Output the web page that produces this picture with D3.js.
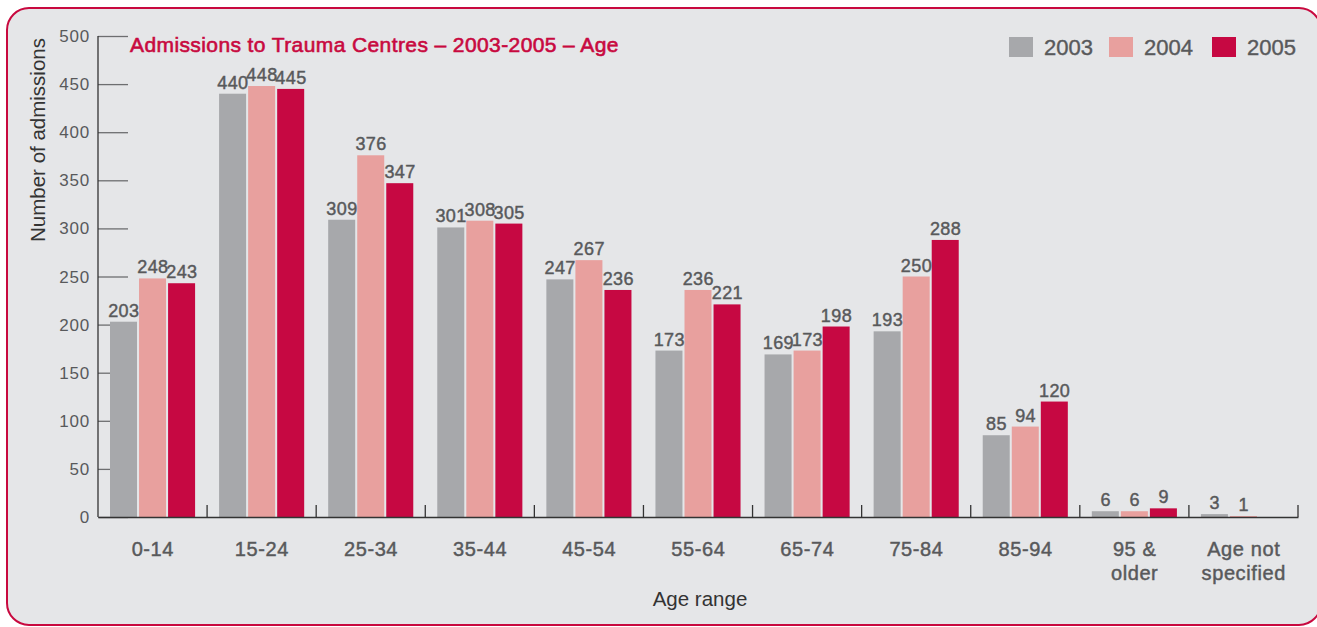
<!DOCTYPE html>
<html>
<head>
<meta charset="utf-8">
<script src="https://cdn.jsdelivr.net/npm/d3@7"></script>
<style>
  html, body { margin: 0; padding: 0; background: #ffffff; overflow: hidden; }
  svg { display: block; font-family: "Liberation Sans", Arial, sans-serif; }
</style>
</head>
<body>
<div id="chart"></div>
<script>
// the data
const ageRanges = ["0-14", "15-24", "25-34", "35-44", "45-54", "55-64", "65-74", "75-84", "85-94", "95 & older", "Age not specified"];
const years = ["2003", "2004", "2005"];
const admissions2003 = [203, 440, 309, 301, 247, 173, 169, 193, 85, 6, 3];
const admissions2004 = [248, 448, 376, 308, 267, 236, 173, 250, 94, 6, 1];
const admissions2005 = [243, 445, 347, 305, 236, 221, 198, 288, 120, 9, null];
const yTicks = [0, 50, 100, 150, 200, 250, 300, 350, 400, 450, 500];
const yearColors = ["#a7a8ab", "#e8a09e", "#c60842"];

// category labels that go on two lines
const labelLines = {
  "95 & older": ["95 &", "older"],
  "Age not specified": ["Age not", "specified"]
};

const W = 1317, H = 627;
const series = [admissions2003, admissions2004, admissions2005];

const svg = d3.select("#chart").append("svg")
  .attr("width", W)
  .attr("height", H);

// the rounded panel behind everything, its right side runs off the picture
svg.append("rect")
  .attr("x", 7).attr("y", 8)
  .attr("width", 1314).attr("height", 617)
  .attr("rx", 22)
  .attr("fill", "#e5e6e8")
  .attr("stroke", "#c8093f")
  .attr("stroke-width", 2);

const x0 = d3.scaleBand().domain(ageRanges).range([98, 1298]).paddingInner(0).paddingOuter(0);
const x1 = d3.scaleBand().domain(years).range([12, x0.bandwidth() - 12]).paddingInner(0.07);
const y = d3.scaleLinear().domain([0, 500]).range([517, 36]);

// y ticks go inward and sit behind the bars
const yAxis = svg.append("g").attr("transform", "translate(98,0)")
  .call(d3.axisRight(y).tickValues(yTicks).tickSize(30).tickFormat(""));
yAxis.select(".domain").remove();
yAxis.selectAll(".tick line").attr("stroke", "#6d6e70").attr("stroke-width", 1.3);

svg.append("g").selectAll("text")
  .data(yTicks)
  .join("text")
  .attr("x", 90)
  .attr("y", d => y(d) + 6)
  .attr("text-anchor", "end")
  .attr("font-size", 17)
  .attr("letter-spacing", 0.8)
  .attr("fill", "#58595b")
  .text(d => d);

// bars
const groups = svg.append("g").selectAll("g")
  .data(ageRanges)
  .join("g")
  .attr("transform", d => `translate(${x0(d)},0)`);

groups.selectAll("rect")
  .data((d, i) => years.map((yr, k) => ({ yr: yr, v: series[k][i], k: k })).filter(e => e.v !== null))
  .join("rect")
  .attr("x", e => x1(e.yr))
  .attr("y", e => y(e.v))
  .attr("width", x1.bandwidth())
  .attr("height", e => y(0) - y(e.v))
  .attr("fill", e => yearColors[e.k]);

groups.selectAll("text")
  .data((d, i) => years.map((yr, k) => ({ yr: yr, v: series[k][i] })).filter(e => e.v !== null))
  .join("text")
  .attr("x", e => x1(e.yr) + x1.bandwidth() / 2 + 0.3)
  .attr("y", e => y(e.v) - 5)
  .attr("text-anchor", "middle")
  .attr("font-size", 18)
  .attr("letter-spacing", 0.4)
  .attr("fill", "#58595b")
  .attr("stroke", "#58595b")
  .attr("stroke-width", 0.45)
  .text(e => e.v);

// axes lines
svg.append("line")
  .attr("x1", 98).attr("x2", 98)
  .attr("y1", 36).attr("y2", 517)
  .attr("stroke", "#333").attr("stroke-width", 1.3);

const xAxis = svg.append("g").attr("transform", "translate(0,517)")
  .call(d3.axisTop(x0).tickSize(0).tickFormat(""));
xAxis.select(".domain").attr("stroke", "#333").attr("stroke-width", 1.3);

// separator ticks between the categories
const seps = ageRanges.map(d => x0(d) + x0.bandwidth());
svg.append("g").selectAll("line")
  .data(seps)
  .join("line")
  .attr("x1", d => d).attr("x2", d => d)
  .attr("y1", 505).attr("y2", 517)
  .attr("stroke", "#333").attr("stroke-width", 1.3);

// category labels
svg.append("g").selectAll("text")
  .data(ageRanges)
  .join("text")
  .attr("y", 556)
  .attr("text-anchor", "middle")
  .attr("font-size", 20)
  .attr("letter-spacing", 0.6)
  .attr("fill", "#58595b")
  .attr("stroke", "#58595b")
  .attr("stroke-width", 0.45)
  .each(function (d) {
    const lines = labelLines[d] || [d];
    d3.select(this).selectAll("tspan")
      .data(lines)
      .join("tspan")
      .attr("x", x0(d) + x0.bandwidth() / 2 + 0.3)
      .attr("dy", (l, j) => j === 0 ? 0 : 24)
      .text(l => l);
  });

// axis titles
svg.append("text")
  .attr("x", 700).attr("y", 606)
  .attr("text-anchor", "middle")
  .attr("font-size", 20.5)
  .attr("fill", "#333")
  .text("Age range");

svg.append("text")
  .attr("transform", "translate(45,140) rotate(-90)")
  .attr("text-anchor", "middle")
  .attr("font-size", 20.5)
  .attr("fill", "#333")
  .text("Number of admissions");

// chart title
svg.append("text")
  .attr("x", 130).attr("y", 52)
  .attr("font-size", 21)
  .attr("letter-spacing", 0.4)
  .attr("fill", "#c8093f")
  .attr("stroke", "#c8093f")
  .attr("stroke-width", 0.6)
  .text("Admissions to Trauma Centres \u2013 2003-2005 \u2013 Age");

// legend
const legendX = [1009, 1109, 1212];
const legend = svg.append("g").selectAll("g")
  .data(years)
  .join("g")
  .attr("transform", (d, i) => `translate(${legendX[i]},37)`);
legend.append("rect")
  .attr("width", 24).attr("height", 20)
  .attr("fill", (d, i) => yearColors[i]);
legend.append("text")
  .attr("x", 35).attr("y", 18)
  .attr("font-size", 22)
  .attr("fill", "#58595b")
  .attr("stroke", "#58595b")
  .attr("stroke-width", 0.4)
  .text(d => d);
</script>
</body>
</html>
